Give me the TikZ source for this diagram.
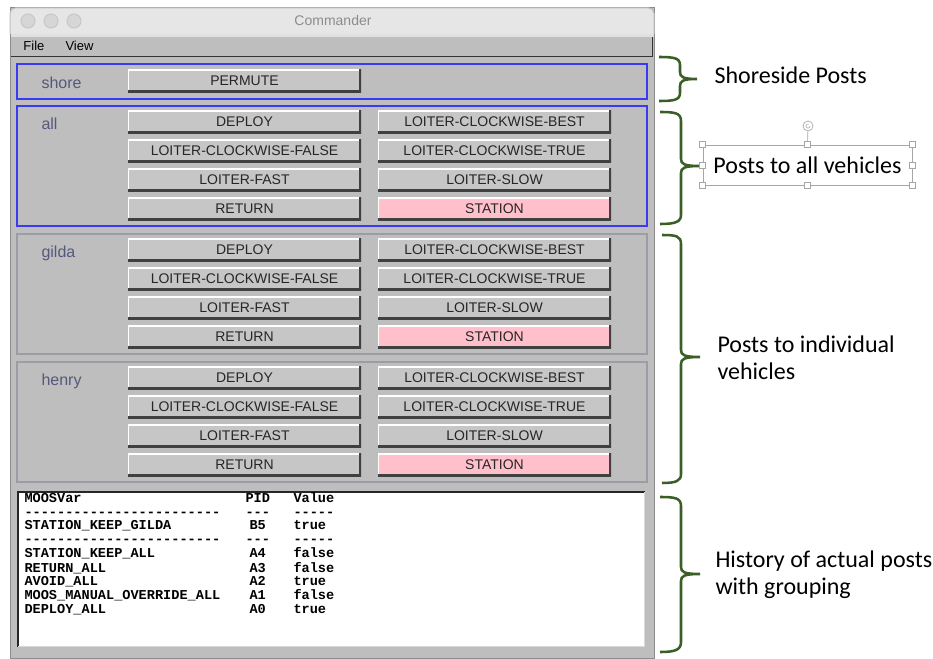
\documentclass[tikz,border=0pt]{standalone}
\usepackage{fontspec}
\setmainfont{Liberation Sans}
\newfontfamily\notefont{Carlito}
\newfontfamily\histfont[Ligatures=TeXOff]{Liberation Mono}

\definecolor{winbg}{HTML}{BEBEBE}
\definecolor{titlebg}{HTML}{E6E6E6}
\definecolor{btnbg}{HTML}{C6C6C6}
\definecolor{panelblue}{HTML}{3A3AF5}
\definecolor{panelgray}{HTML}{9C9CA4}
\definecolor{grptext}{HTML}{55587A}
\definecolor{stationpink}{HTML}{FFC0CB}
\definecolor{bracegreen}{HTML}{3A5E26}
\definecolor{selgray}{HTML}{A6A6A6}

\tikzset{every picture/.style={line width=0.75pt}}
\tikzset{
  btn/.style={fill=btnbg, minimum width=174.75pt, minimum height=17.25pt, inner sep=0pt,
    font=\fontsize{10.5}{12}\selectfont, text=black!85,
    path picture={
      \draw[white, line width=2pt] (path picture bounding box.south west) |- (path picture bounding box.north east);
      \draw[black!75, line width=3pt] (path picture bounding box.south west) -| (path picture bounding box.north east);
    }},
  grplabel/.style={anchor=base west, inner sep=0pt, text=grptext, font=\fontsize{12}{14}\selectfont},
  panelbox/.style={line width=1.2pt},
  histcol/.style={anchor=base west, align=left, inner sep=0pt, font=\histfont\bfseries\fontsize{10.2}{10.5}\selectfont},
  notetext/.style={inner sep=0pt, font=\notefont\fontsize{18}{20.6}\selectfont},
  postbrace/.style={draw=bracegreen, line width=1.9pt},
  selhandle/.style={draw=selgray, fill=white, line width=0.5pt, minimum size=4.5pt, inner sep=0pt},
}

\begin{document}
\begin{tikzpicture}[x=0.75pt,y=0.75pt,yscale=-1,xscale=1]
\useasboundingbox (0,0) rectangle (933,659);

%Shape: Window
\draw[draw=black!45, fill=winbg] (10,8) rectangle (654,658);
%Shape: Title bar
\filldraw[draw=black!25, fill=titlebg, rounded corners=4pt] (10,34) -- (10,8) -- (654,8) -- (654,34);
\fill[black!12] (10.5,34) rectangle (653.5,37);
%Shape: Menu bar
\draw[black!80, line width=1.2pt] (11,56.5) -- (653,56.5);
\draw[black!80, line width=1.2pt] (652.5,37) -- (652.5,56.5);
%Shape: Circle
\draw[draw=black!22, fill=black!16] (28,21) circle (7);
\draw[draw=black!22, fill=black!16] (51,21) circle (7);
\draw[draw=black!22, fill=black!16] (74,21) circle (7);

% Text Node
\node[text=black!45, font=\fontsize{10.5}{12}\selectfont] (title) at (333,21) {Commander};
% Text Node
\node[anchor=west, inner sep=0pt, font=\fontsize{9.75}{11}\selectfont] (filemenu) at (23,46) {File};
% Text Node
\node[anchor=west, inner sep=0pt, font=\fontsize{9.75}{11}\selectfont] (viewmenu) at (65,46) {View};

%Shape: Shore panel
\draw[panelbox, draw=panelblue] (17,64) rectangle (647,99);
\node[grplabel] (shore-label) at (41,89) {shore};
\node[btn] (shore-permute) at (244.5,81) {PERMUTE};

%Shape: Vehicle panels
\foreach \grp/\dy/\pcol in {all/0/panelblue, gilda/128/panelgray, henry/256/panelgray}{
  \draw[panelbox, draw=\pcol] (17,106+\dy) rectangle (647,226+\dy);
  \node[grplabel] (\grp-label) at (41,130+\dy) {\grp};
  \node[btn] (\grp-deploy) at (244.5,122+\dy) {DEPLOY};
  \node[btn] (\grp-best) at (494.5,122+\dy) {LOITER-CLOCKWISE-BEST};
  \node[btn] (\grp-false) at (244.5,151+\dy) {LOITER-CLOCKWISE-FALSE};
  \node[btn] (\grp-true) at (494.5,151+\dy) {LOITER-CLOCKWISE-TRUE};
  \node[btn] (\grp-fast) at (244.5,180+\dy) {LOITER-FAST};
  \node[btn] (\grp-slow) at (494.5,180+\dy) {LOITER-SLOW};
  \node[btn] (\grp-return) at (244.5,209+\dy) {RETURN};
  \node[btn, fill=stationpink] (\grp-station) at (494.5,209+\dy) {STATION};
}

%Shape: History area
\fill[white] (17,491) rectangle (645,647);
\draw[black!85, line width=1.5pt] (17.75,647) -- (17.75,491.75) -- (645,491.75);
\draw[black!15] (18,646.5) -- (644.5,646.5) -- (644.5,492);

% Text Node (base = last line)
\node[histcol] (varcol) at (24,614) {MOOSVar\\------------------------\\STATION\_KEEP\_GILDA\\------------------------\\STATION\_KEEP\_ALL\\RETURN\_ALL\\AVOID\_ALL\\MOOS\_MANUAL\_OVERRIDE\_ALL\\DEPLOY\_ALL};
% Text Node
\node[histcol] (pidcol) at (245,614) {PID\\---\\\kern3pt B5\\---\\\kern3pt A4\\\kern3pt A3\\\kern3pt A2\\\kern3pt A1\\\kern3pt A0};
% Text Node
\node[histcol] (valcol) at (293,614) {Value\\-----\\true\\-----\\false\\false\\true\\false\\true};

%Shape: Brace
\draw[postbrace] (659,57) .. controls (674,57) and (680,58) .. (680,65) -- (680,72) .. controls (680,77) and (683,79) .. (697,79) .. controls (683,79) and (680,81) .. (680,86) -- (680,93) .. controls (680,100) and (674,101) .. (659,101);
%Shape: Brace
\draw[postbrace] (660,112) .. controls (675,112) and (681,113) .. (681,121) -- (681,159) .. controls (681,164) and (684,166) .. (700,166) .. controls (684,166) and (681,168) .. (681,173) -- (681,215) .. controls (681,222) and (675,224) .. (660,224);
%Shape: Brace
\draw[postbrace] (662,235) .. controls (676,235) and (681,236) .. (681,244) -- (681,350) .. controls (681,355) and (684,357) .. (700,357) .. controls (684,357) and (681,359) .. (681,364) -- (681,474) .. controls (681,481) and (676,483) .. (662,483);
%Shape: Brace
\draw[postbrace] (660,497) .. controls (675,497) and (681,498) .. (681,506) -- (681,567) .. controls (681,572) and (684,574) .. (700,574) .. controls (684,574) and (681,576) .. (681,581) -- (681,642) .. controls (681,650) and (675,652) .. (660,652);

% Text Node
\node[notetext, anchor=base west] (shorenote) at (714,84) {Shoreside Posts};
% Text Node
\node[notetext, draw=selgray, line width=0.6pt, minimum width=156.75pt, minimum height=30pt] (allnote) at (807.5,165) {Posts to all vehicles};
\foreach \a [count=\k] in {north west,north,north east,east,south east,south,south west,west}
  \node[selhandle] (hd\k) at (allnote.\a) {};
\node[selhandle, circle, minimum size=7.5pt] (rothandle) at (808,126) {};
\draw[selgray, line width=0.5pt] (rothandle) -- (hd2);
\draw[selgray, line width=0.4pt] ([xshift=1.6pt]rothandle.center) arc[start angle=0, end angle=290, radius=1.6pt];
% Text Node
\node[notetext, anchor=north west, align=left] (indivnote) at (717,335) {Posts to individual\\vehicles};
% Text Node
\node[notetext, anchor=north west, align=left] (histnote) at (715,550) {History of actual posts\\with grouping};

\end{tikzpicture}
\end{document}
